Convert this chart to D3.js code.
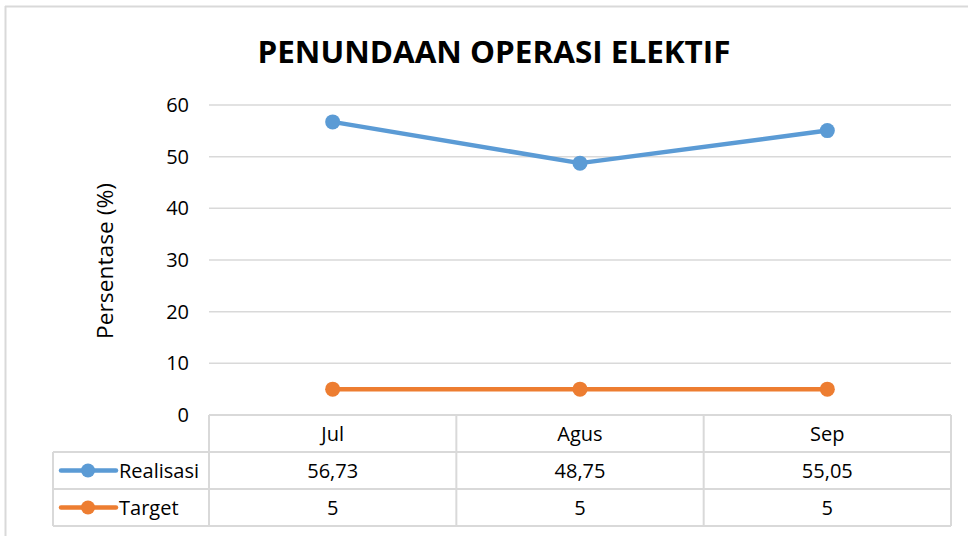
<!DOCTYPE html>
<html>
<head>
  <meta charset="UTF-8">
  <title>Penundaan Operasi Elektif</title>
  <style>
    body { margin: 0; background: #fff; }
    svg text { font-family: "Open Sans", "Noto Sans", sans-serif; fill: #000; }
  </style>
</head>
<body>
  <svg id="chart" width="968" height="536"></svg>

  <script src="https://d3js.org/d3.v7.min.js"></script>
  <script>
    // data
    var months = ["Jul", "Agus", "Sep"];
    var realisasi = [56.73, 48.75, 55.05];
    var target = [5, 5, 5];
    var realisasiLabels = ["56,73", "48,75", "55,05"];
    var targetLabels = ["5", "5", "5"];
    var yTicks = [0, 10, 20, 30, 40, 50, 60];

    var series = [
      { name: "Realisasi", values: realisasi, labels: realisasiLabels, color: "#5b9bd5" },
      { name: "Target", values: target, labels: targetLabels, color: "#ed7d31" }
    ];

    var svg = d3.select("#chart");
    var plot = { left: 209, right: 951, top: 105, bottom: 415 };
    var rowH = 37;
    var legendLeft = 53;
    var grid = "#d9d9d9";
    var fs = 20;

    // outer frame (only top and left edges are inside the picture)
    svg.append("line").attr("x1", 5).attr("x2", 968).attr("y1", 6.5).attr("y2", 6.5)
      .attr("stroke", grid).attr("stroke-width", 2);
    svg.append("line").attr("x1", 5.5).attr("x2", 5.5).attr("y1", 6).attr("y2", 536)
      .attr("stroke", grid).attr("stroke-width", 2);

    svg.append("text")
      .attr("x", 494).attr("y", 63)
      .attr("text-anchor", "middle")
      .attr("font-size", 31).attr("font-weight", "bold")
      .attr("textLength", 473).attr("lengthAdjust", "spacingAndGlyphs")
      .text("PENUNDAAN OPERASI ELEKTIF");

    var x = d3.scaleBand().domain(months).range([plot.left, plot.right]);
    var y = d3.scaleLinear().domain([0, 60]).range([plot.bottom, plot.top]);

    // gridlines
    svg.append("g").selectAll("line")
      .data(yTicks.filter(function(d) { return d > 0; }))
      .enter().append("line")
        .attr("x1", plot.left).attr("x2", plot.right)
        .attr("y1", function(d) { return y(d); }).attr("y2", function(d) { return y(d); })
        .attr("stroke", grid).attr("stroke-width", 1.5);

    // y axis labels
    var yAxis = svg.append("g")
      .attr("transform", "translate(" + (plot.left - 10) + ",0)")
      .call(d3.axisLeft(y).tickValues(yTicks).tickSize(0).tickPadding(10));
    yAxis.select(".domain").remove();
    yAxis.selectAll("text").attr("font-size", fs).attr("font-family", "Open Sans, sans-serif").attr("fill", "#000");

    svg.append("text")
      .attr("transform", "translate(113,261) rotate(-90)")
      .attr("text-anchor", "middle")
      .attr("font-size", 22)
      .attr("textLength", 156).attr("lengthAdjust", "spacingAndGlyphs")
      .text("Persentase (%)");

    // data table
    var table = svg.append("g");
    var tLines = [];
    // vertical lines
    months.forEach(function(m) {
      tLines.push([x(m), plot.bottom, x(m), plot.bottom + rowH * 3]);
    });
    tLines.push([plot.right, plot.bottom, plot.right, plot.bottom + rowH * 3]);
    tLines.push([legendLeft, plot.bottom + rowH, legendLeft, plot.bottom + rowH * 3]);
    // horizontal lines
    tLines.push([plot.left, plot.bottom, plot.right, plot.bottom]);
    tLines.push([legendLeft, plot.bottom + rowH, plot.right, plot.bottom + rowH]);
    tLines.push([legendLeft, plot.bottom + rowH * 2, plot.right, plot.bottom + rowH * 2]);
    tLines.push([legendLeft, plot.bottom + rowH * 3, plot.right, plot.bottom + rowH * 3]);
    table.selectAll("line").data(tLines).enter().append("line")
      .attr("x1", function(d) { return d[0]; }).attr("y1", function(d) { return d[1]; })
      .attr("x2", function(d) { return d[2]; }).attr("y2", function(d) { return d[3]; })
      .attr("stroke", grid).attr("stroke-width", 2);

    table.selectAll(".month").data(months).enter().append("text")
      .attr("class", "month")
      .attr("x", function(d) { return x(d) + x.bandwidth() / 2; })
      .attr("y", plot.bottom + rowH / 2)
      .attr("dy", "0.35em")
      .attr("text-anchor", "middle")
      .attr("font-size", fs)
      .text(function(d) { return d; });

    series.forEach(function(s, si) {
      var rowY = plot.bottom + rowH * (si + 1) + rowH / 2;
      table.selectAll(".cell" + si).data(s.labels).enter().append("text")
        .attr("x", function(d, i) { return x(months[i]) + x.bandwidth() / 2; })
        .attr("y", rowY)
        .attr("dy", "0.35em")
        .attr("text-anchor", "middle")
        .attr("font-size", fs)
        .text(function(d) { return d; });

      // legend key
      table.append("line")
        .attr("x1", 61).attr("x2", 116).attr("y1", rowY).attr("y2", rowY)
        .attr("stroke", s.color).attr("stroke-width", 4.5).attr("stroke-linecap", "round");
      table.append("circle")
        .attr("cx", 88).attr("cy", rowY).attr("r", 7)
        .attr("fill", s.color);
      table.append("text")
        .attr("x", 119).attr("y", rowY).attr("dy", "0.35em")
        .attr("font-size", fs)
        .text(s.name);
    });

    // lines + markers
    var line = d3.line()
      .x(function(d, i) { return x(months[i]) + x.bandwidth() / 2; })
      .y(function(d) { return y(d); });

    series.slice().reverse().forEach(function(s) {
      svg.append("path")
        .datum(s.values)
        .attr("d", line)
        .attr("fill", "none")
        .attr("stroke", s.color)
        .attr("stroke-width", 4.5)
        .attr("stroke-linejoin", "round")
        .attr("stroke-linecap", "round");
      svg.append("g").selectAll("circle")
        .data(s.values)
        .enter().append("circle")
          .attr("cx", function(d, i) { return x(months[i]) + x.bandwidth() / 2; })
          .attr("cy", function(d) { return y(d); })
          .attr("r", 7.5)
          .attr("fill", s.color);
    });
  </script>
</body>
</html>
